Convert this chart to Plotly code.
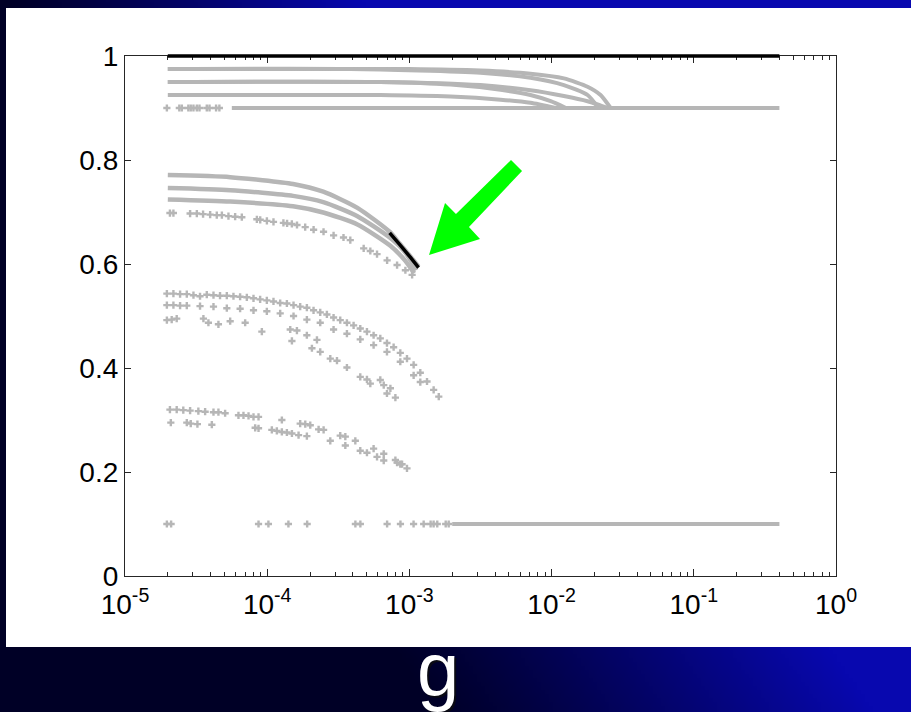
import base64
import struct
import zlib

import plotly.graph_objects as go

# ---------------- data ----------------
# reference level (black) at y = 1
ref_x = [2.0e-5, 0.4]
ref_y = [1.0, 1.0]

# upper family: plateaus that fall onto the 0.9 level
top_a_x = [2.0e-5, 1.0e-3, 3.16e-3, 7.1e-3, 1.22e-2, 1.79e-2, 2.21e-2, 2.6e-2]
top_a_y = [0.975, 0.975, 0.972, 0.966, 0.957, 0.941, 0.925, 0.900]
top_a2_x = [2.0e-5, 3.85e-4, 3.16e-3, 7.1e-3, 1.22e-2, 1.79e-2, 2.14e-2]
top_a2_y = [0.975, 0.975, 0.968, 0.958, 0.944, 0.925, 0.900]
top_b_x = [2.0e-5, 6.25e-4, 3.16e-3, 7.1e-3, 1.22e-2, 1.79e-2, 2.2e-2, 2.48e-2]
top_b_y = [0.950, 0.950, 0.944, 0.934, 0.923, 0.913, 0.905, 0.900]
top_b2_x = [2.0e-5, 6.25e-4, 1.95e-3, 4.38e-3, 7.1e-3, 9.85e-3, 1.26e-2]
top_b2_y = [0.950, 0.950, 0.945, 0.935, 0.925, 0.913, 0.900]
top_c_x = [2.0e-5, 6.25e-4, 1.95e-3, 4.38e-3, 7.1e-3, 1.07e-2]
top_c_y = [0.925, 0.925, 0.922, 0.916, 0.910, 0.900]

plateau_x = [5.64e-5, 0.4]
plateau_y = [0.9, 0.9]
plateau_sparse_x = [1.97e-5, 2.41e-5, 2.51e-5, 2.79e-5, 2.90e-5, 3.03e-5,
                    3.20e-5, 3.34e-5, 3.76e-5, 3.93e-5, 4.37e-5, 4.61e-5]

# middle family
mid_1_x = [2.0e-5, 5.5e-5, 1.52e-4, 2.48e-4, 4.31e-4, 7.26e-4, 8.5e-4, 1.0e-3, 1.16e-3]
mid_1_y = [0.771, 0.767, 0.754, 0.739, 0.708, 0.662, 0.640, 0.617, 0.595]
mid_2_x = [2.0e-5, 5.5e-5, 1.52e-4, 2.48e-4, 4.31e-4, 7.35e-4, 9.37e-4, 1.12e-3]
mid_2_y = [0.746, 0.742, 0.731, 0.719, 0.692, 0.650, 0.622, 0.588]
mid_3_x = [2.0e-5, 5.5e-5, 1.52e-4, 2.48e-4, 4.31e-4, 7.35e-4, 9.37e-4, 1.08e-3]
mid_3_y = [0.724, 0.720, 0.711, 0.699, 0.676, 0.635, 0.606, 0.582]
mid_4_x = [2.07e-5, 2.19e-5, 2.87e-5, 3.20e-5, 3.54e-5, 3.97e-5, 4.42e-5, 4.80e-5,
           5.34e-5, 5.95e-5, 6.63e-5, 8.46e-5, 8.93e-5, 9.95e-5, 1.107e-4, 1.30e-4,
           1.38e-4, 1.49e-4, 1.62e-4, 1.85e-4, 2.12e-4, 2.49e-4, 2.93e-4, 3.44e-4,
           3.84e-4, 4.77e-4, 5.31e-4, 5.92e-4, 6.97e-4, 8.19e-4, 9.37e-4, 1.045e-3]
mid_4_y = [0.698, 0.698, 0.697, 0.697, 0.696, 0.695, 0.694, 0.694,
           0.692, 0.691, 0.690, 0.686, 0.685, 0.683, 0.681, 0.679,
           0.678, 0.677, 0.675, 0.671, 0.666, 0.662, 0.655, 0.651,
           0.646, 0.630, 0.625, 0.619, 0.607, 0.598, 0.588, 0.579]

# highlighted section (black)
highlight_x = [7.26e-4, 8.5e-4, 1.0e-3, 1.16e-3]
highlight_y = [0.660, 0.638, 0.615, 0.593]

# lower family around 0.5
low_1_x = [1.97e-5, 2.19e-5, 2.44e-5, 2.72e-5, 3.03e-5, 3.37e-5, 3.76e-5, 4.19e-5,
           4.66e-5, 5.20e-5, 5.79e-5, 6.45e-5, 7.19e-5, 8.01e-5, 8.92e-5, 9.94e-5,
           1.107e-4, 1.234e-4, 1.375e-4, 1.532e-4, 1.706e-4, 1.901e-4, 2.118e-4,
           2.360e-4, 2.629e-4, 2.929e-4, 3.263e-4, 3.636e-4, 4.051e-4, 4.513e-4,
           5.028e-4, 5.602e-4, 6.241e-4, 6.953e-4, 7.747e-4, 8.630e-4, 9.615e-4,
           1.071e-3, 1.193e-3, 1.330e-3, 1.481e-3, 1.609e-3]
low_1_y = [0.543, 0.543, 0.542, 0.542, 0.540, 0.538, 0.541, 0.540,
           0.539, 0.539, 0.538, 0.537, 0.536, 0.534, 0.532, 0.530,
           0.528, 0.525, 0.524, 0.521, 0.518, 0.516, 0.511,
           0.507, 0.503, 0.497, 0.492, 0.487, 0.482, 0.476,
           0.470, 0.463, 0.457, 0.448, 0.440, 0.429, 0.418,
           0.406, 0.391, 0.374, 0.358, 0.345]
low_2_x = [1.97e-5, 2.19e-5, 2.44e-5, 2.72e-5, 3.37e-5, 4.19e-5, 5.20e-5, 6.45e-5,
           8.01e-5, 9.94e-5, 1.234e-4, 1.532e-4, 1.901e-4, 2.360e-4, 2.929e-4,
           3.636e-4, 4.513e-4, 5.602e-4, 6.953e-4, 8.630e-4, 1.071e-3, 1.193e-3]
low_2_y = [0.521, 0.521, 0.520, 0.520, 0.519, 0.518, 0.515, 0.514,
           0.511, 0.509, 0.505, 0.500, 0.493, 0.487, 0.474,
           0.466, 0.455, 0.444, 0.431, 0.412, 0.386, 0.373]
low_3_x = [1.97e-5, 2.13e-5, 2.31e-5, 3.56e-5, 3.86e-5, 4.54e-5, 5.49e-5, 7.00e-5,
           9.17e-5, 1.452e-4, 1.618e-4, 1.492e-4, 1.90e-4, 2.238e-4, 2.063e-4,
           2.36e-4, 2.777e-4, 3.095e-4, 3.636e-4, 4.513e-4, 5.028e-4, 5.31e-4,
           6.241e-4, 6.60e-4, 6.953e-4, 7.35e-4, 7.97e-4]
low_3_y = [0.492, 0.493, 0.495, 0.495, 0.487, 0.484, 0.490, 0.487,
           0.470, 0.474, 0.472, 0.452, 0.463, 0.454, 0.438,
           0.431, 0.418, 0.414, 0.401, 0.383, 0.378, 0.370,
           0.377, 0.367, 0.351, 0.361, 0.343]

# family around 0.3
bot_1_x = [2.07e-5, 2.31e-5, 2.57e-5, 2.87e-5, 3.28e-5, 3.66e-5, 4.19e-5, 4.54e-5,
           5.06e-5, 6.28e-5, 6.81e-5, 7.39e-5, 8.01e-5, 8.69e-5, 1.268e-4, 1.706e-4,
           1.852e-4, 2.008e-4, 2.299e-4, 2.493e-4, 3.263e-4, 3.543e-4, 4.166e-4,
           5.602e-4, 6.60e-4, 7.97e-4, 8.88e-4, 9.615e-4]
bot_1_y = [0.320, 0.320, 0.319, 0.318, 0.317, 0.316, 0.315, 0.315,
           0.313, 0.309, 0.309, 0.308, 0.306, 0.306, 0.300, 0.293,
           0.292, 0.290, 0.282, 0.281, 0.270, 0.268, 0.260,
           0.245, 0.235, 0.223, 0.215, 0.207]
bot_2_x = [2.10e-5, 2.72e-5, 2.90e-5, 3.23e-5, 4.08e-5, 8.23e-5, 8.69e-5, 1.078e-4,
           1.169e-4, 1.268e-4, 1.375e-4, 1.492e-4, 1.662e-4, 1.901e-4, 2.777e-4,
           3.543e-4, 4.513e-4, 5.028e-4, 5.92e-4, 6.60e-4, 8.19e-4, 8.63e-4]
bot_2_y = [0.295, 0.295, 0.293, 0.292, 0.291, 0.285, 0.284, 0.281,
           0.279, 0.277, 0.276, 0.274, 0.271, 0.269, 0.260,
           0.251, 0.241, 0.237, 0.229, 0.222, 0.218, 0.215]

# floor level at 0.1
floor_x = [2.0e-3, 0.4]
floor_y = [0.1, 0.1]
floor_sparse_x = [1.97e-5, 2.11e-5, 8.69e-5, 1.02e-4, 1.41e-4, 1.91e-4, 4.17e-4, 4.52e-4,
                  6.97e-4, 8.65e-4, 1.07e-3, 1.26e-3, 1.41e-3, 1.48e-3, 1.57e-3,
                  1.80e-3, 1.89e-3]

x_tick_vals = [1e-5, 1e-4, 1e-3, 1e-2, 1e-1, 1e0]
x_tick_text = ["10<sup>-5</sup>", "10<sup>-4</sup>", "10<sup>-3</sup>",
               "10<sup>-2</sup>", "10<sup>-1</sup>", "10<sup>0</sup>"]
y_tick_vals = [0, 0.2, 0.4, 0.6, 0.8, 1.0]
y_tick_text = ["0", "0.2", "0.4", "0.6", "0.8", "1"]
panel_label = "g"

# ---------------- styling ----------------
GRAY = "#b6b6b6"
FONT = "Liberation Sans, Arial, sans-serif"
FIG_W, FIG_H = 911, 712
ML, MR, MT, MB = 125, 75, 56, 136
PW, PH = FIG_W - ML - MR, FIG_H - MT - MB


def px_to_paper(px, py):
    return (px - ML) / PW, (FIG_H - MB - py) / PH


def gradient_png(w, h):
    """Dark-navy to blue diagonal slide background as a small PNG data URI."""
    raw = bytearray()
    for j in range(h):
        raw.append(0)
        Y = j / (h - 1) * FIG_H
        for i in range(w):
            X = i / (w - 1) * FIG_W
            t = (X - 0.6 * Y) / (360 + 0.12 * Y)
            t = min(max(t, 0.0), 1.0) ** 1.1
            raw += bytes([int(8 * t), int(8 * t), int(38 + 137 * t)])

    def chunk(tag, data):
        return (struct.pack(">I", len(data)) + tag + data
                + struct.pack(">I", zlib.crc32(tag + data) & 0xFFFFFFFF))

    png = (b"\x89PNG\r\n\x1a\n"
           + chunk(b"IHDR", struct.pack(">IIBBBBB", w, h, 8, 2, 0, 0, 0))
           + chunk(b"IDAT", zlib.compress(bytes(raw), 9))
           + chunk(b"IEND", b""))
    return "data:image/png;base64," + base64.b64encode(png).decode()


fig = go.Figure()


def add_line(xs, ys, color=GRAY, width=4, smooth=True):
    fig.add_trace(go.Scatter(
        x=xs, y=ys, mode="lines",
        line=dict(color=color, width=width,
                  shape="spline" if smooth else "linear", smoothing=0.6),
        hoverinfo="skip", showlegend=False))


def add_points(xs, ys, color=GRAY, size=6):
    fig.add_trace(go.Scatter(
        x=xs, y=ys, mode="markers",
        marker=dict(symbol="cross", size=size, color=color, line=dict(width=0)),
        hoverinfo="skip", showlegend=False))


# flat levels
add_line(plateau_x, plateau_y, width=4, smooth=False)
add_points(plateau_sparse_x, [plateau_y[0]] * len(plateau_sparse_x))
add_line(floor_x, floor_y, width=4, smooth=False)
add_points(floor_sparse_x, [floor_y[0]] * len(floor_sparse_x))

# upper family
for xs, ys in [(top_a_x, top_a_y), (top_a2_x, top_a2_y), (top_b_x, top_b_y),
               (top_b2_x, top_b2_y), (top_c_x, top_c_y)]:
    add_line(xs, ys, width=4)

# middle family
for xs, ys in [(mid_1_x, mid_1_y), (mid_2_x, mid_2_y), (mid_3_x, mid_3_y)]:
    add_line(xs, ys, width=4.5)
add_points(mid_4_x, mid_4_y)

# lower families
for xs, ys in [(low_1_x, low_1_y), (low_2_x, low_2_y), (low_3_x, low_3_y),
               (bot_1_x, bot_1_y), (bot_2_x, bot_2_y)]:
    add_points(xs, ys)

# highlighted section
add_line(highlight_x, highlight_y, color="black", width=3.5)

# ---------------- decorations ----------------
shapes = []
# white slide panel
x0, y1 = px_to_paper(6, 8)
x1, y0 = px_to_paper(912, 647)
shapes.append(dict(type="rect", xref="paper", yref="paper", x0=x0, x1=x1, y0=y0, y1=y1,
                   fillcolor="white", line=dict(width=0), layer="below"))

# black reference level: it sits on the top frame, so draw it on the x scale
# with a paper-referenced y so that its upper half is not clipped away
shapes.append(dict(type="line", xref="x", yref="paper",
                   x0=ref_x[0], x1=ref_x[-1], y0=ref_y[0], y1=ref_y[-1],
                   line=dict(color="black", width=3.5), layer="above"))

# green pointer arrow
arrow_px = [(511, 160), (522, 171), (469, 227), (480, 239), (429, 255), (445, 203), (456, 214)]
pts = [px_to_paper(a, b) for a, b in arrow_px]
path = "M " + " L ".join(f"{a:.4f},{b:.4f}" for a, b in pts) + " Z"
shapes.append(dict(type="path", xref="paper", yref="paper", path=path,
                   fillcolor="#00ff00", line=dict(width=0), layer="above"))

bg_x, bg_y = px_to_paper(0, 0)
images = [dict(source=gradient_png(228, 178), xref="paper", yref="paper",
               x=bg_x, y=bg_y, sizex=FIG_W / PW, sizey=FIG_H / PH,
               xanchor="left", yanchor="top", sizing="stretch", layer="below")]

gx, gy = px_to_paper(438, 669)
sx, sy = px_to_paper(440, 671)
annotations = [
    dict(text=panel_label, xref="paper", yref="paper", x=sx, y=sy, showarrow=False,
         xanchor="center", yanchor="middle", font=dict(family=FONT, size=76, color="#0a0a14")),
    dict(text=panel_label, xref="paper", yref="paper", x=gx, y=gy, showarrow=False,
         xanchor="center", yanchor="middle", font=dict(family=FONT, size=76, color="white")),
]

minor_vals = [m * 10.0 ** k for k in range(-5, 0) for m in range(2, 10)]

axis_common = dict(showgrid=False, zeroline=False, showline=True, linecolor="#262626",
                   linewidth=1.2, mirror="allticks", ticks="inside", tickcolor="#262626",
                   tickwidth=1, tickfont=dict(family=FONT, size=28, color="black"))

fig.update_layout(
    width=FIG_W, height=FIG_H,
    margin=dict(l=ML, r=MR, t=MT, b=MB, pad=0),
    paper_bgcolor="#000030", plot_bgcolor="white",
    showlegend=False,
    shapes=shapes, images=images, annotations=annotations,
    xaxis=dict(type="log", range=[-5, 0], tickmode="array", tickvals=x_tick_vals,
               ticktext=x_tick_text, ticklen=7, ticklabelstandoff=3,
               minor=dict(ticks="inside", ticklen=4, tickmode="array",
                          tickvals=minor_vals, tickcolor="#262626"),
               **axis_common),
    yaxis=dict(range=[0, 1], tickmode="array", tickvals=y_tick_vals,
               ticktext=y_tick_text, ticklen=6, **axis_common),
)

fig.write_html("out.html")
